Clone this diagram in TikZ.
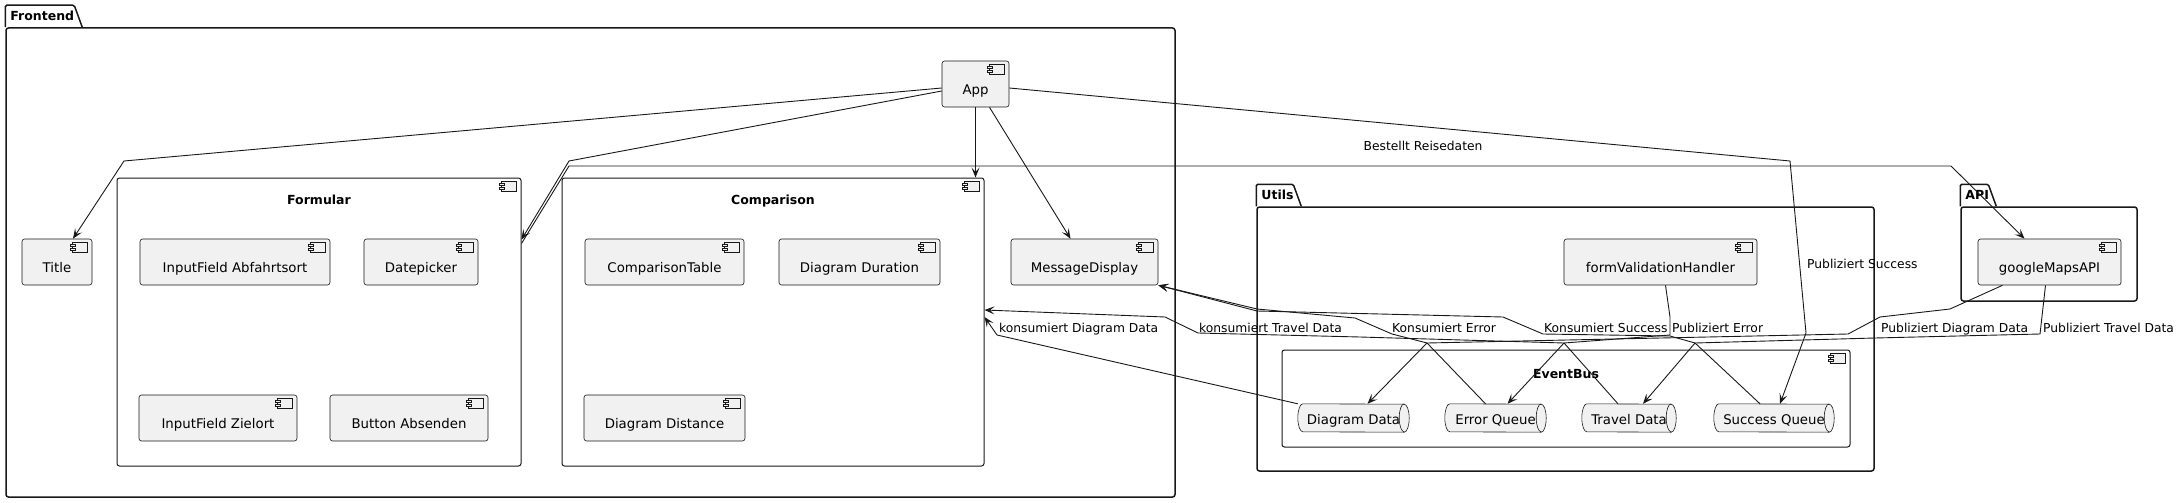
\documentclass[tikz,border=0pt]{standalone}
\usepackage{fontspec}
\setmainfont{DejaVu Sans}
\usepackage{tikz}
\usetikzlibrary{arrows.meta,backgrounds}

\definecolor{umlfill}{HTML}{F1F1F1}
\definecolor{umlline}{HTML}{181818}

\tikzset{
  comp/.style={draw=umlline, line width=0.6pt, fill=umlfill, rounded corners=2.5pt,
    minimum height=46pt, inner sep=0pt, text height=20pt, text depth=0pt,
    font=\fontsize{13.3}{15}\selectfont},
  frame/.style={draw=umlline, line width=1pt, rounded corners=2.5pt, inner sep=0pt},
  pkg/.style={draw=umlline, line width=1.5pt, rounded corners=2.5pt, inner sep=0pt},
  queue/.style={inner sep=0pt, minimum height=28pt, text height=13pt, text depth=0pt,
    font=\fontsize{13.3}{15}\selectfont},
  title/.style={anchor=base, inner sep=0pt, font=\fontsize{12.5}{14}\selectfont\bfseries},
  tabtext/.style={anchor=base west, inner sep=0pt, font=\fontsize{12.5}{14}\selectfont\bfseries},
  elabel/.style={anchor=base west, inner sep=0pt, font=\fontsize{12.3}{14}\selectfont},
  flow/.style={draw=umlline, line width=0.9pt, -{Stealth[length=10pt,width=8pt,inset=4.5pt]}},
  iconline/.style={draw=umlline, line width=0.5pt, fill=umlfill},
  qline/.style={draw=umlline, line width=0.6pt, fill=umlfill}
}

% Komponenten-Symbol oben rechts
\newcommand\compicon[1]{%
  \draw[iconline] ([xshift=-20pt,yshift=-4pt]#1.north east) rectangle ([xshift=-5pt,yshift=-14pt]#1.north east);
  \draw[iconline] ([xshift=-22pt,yshift=-6pt]#1.north east) rectangle ([xshift=-17pt,yshift=-8pt]#1.north east);
  \draw[iconline] ([xshift=-22pt,yshift=-10pt]#1.north east) rectangle ([xshift=-17pt,yshift=-12pt]#1.north east);}

% Reiter eines Pakets
\newcommand\pkgtab[4]{%
  \draw[umlline, line width=1.5pt, rounded corners=1.5pt] (#1.north west) -- ++(0,-22) -- ++(#2,0) -- ++(8,22);
  \node[tabtext] (#3) at ([xshift=5pt,yshift=7pt]#1.north west) {#4};}

% Warteschlange als liegender Zylinder
\newcommand\queuedraw[1]{%
  \filldraw[qline] ([xshift=5pt]#1.north west) arc[start angle=90,end angle=270,x radius=5pt,y radius=14pt]
    -- ([xshift=-5pt]#1.south east) arc[start angle=-90,end angle=90,x radius=5pt,y radius=14pt] -- cycle;
  \draw[qline, fill=none] ([xshift=-5pt]#1.north east) arc[start angle=90,end angle=270,x radius=5pt,y radius=14pt];}

\begin{document}
\begin{tikzpicture}[x=1pt,y=-1pt]
    \useasboundingbox (0,0) rectangle (2184,503);

    % Pakete
    \node[pkg, minimum width=1169pt, minimum height=469pt] (Frontend) at (590.5,262.5) {};
    \node[pkg, minimum width=617pt, minimum height=264pt] (Utils) at (1565.5,339) {};
    \node[pkg, minimum width=176pt, minimum height=94pt] (API) at (2049,254) {};
    \pkgtab{Frontend}{69}{FrontendTab}{Frontend}
    \pkgtab{Utils}{37}{UtilsTab}{Utils}
    \pkgtab{API}{28}{APITab}{API}

    % Frontend
    \node[comp, minimum width=67pt] (App) at (975.5,84) {App};
    \node[comp, minimum width=70pt] (Title) at (57,262) {Title};

    \node[frame, minimum width=404pt, minimum height=288pt] (Formular) at (319,322) {};
    \node[title] (FormularTitle) at (319,204) {Formular};
    \node[comp, minimum width=190pt] (InAbfahrt) at (235,262) {InputField Abfahrtsort};
    \node[comp, minimum width=114pt] (Datepicker) at (421,262) {Datepicker};
    \node[comp, minimum width=158pt] (InZielort) at (218,418) {InputField Zielort};
    \node[comp, minimum width=158pt] (BtnAbsenden) at (409,418) {Button Absenden};

    \node[frame, minimum width=422pt, minimum height=288pt] (Comparison) at (773,322) {};
    \node[title] (ComparisonTitle) at (773,204) {Comparison};
    \node[comp, minimum width=159pt] (CompTable) at (664.5,262) {ComparisonTable};
    \node[comp, minimum width=161pt] (DiagDuration) at (859.5,262) {Diagram Duration};
    \node[comp, minimum width=161pt] (DiagDistance) at (664.5,418) {Diagram Distance};

    \node[comp, minimum width=147pt] (MessageDisplay) at (1084.5,262) {MessageDisplay};

    % Utils und API
    \node[comp, minimum width=193pt] (FormValidation) at (1660.5,262) {formValidationHandler};
    \node[comp, minimum width=143pt] (GoogleMaps) at (2049.5,262) {googleMapsAPI};

    \node[frame, minimum width=568pt, minimum height=97pt] (EventBus) at (1566,398.5) {};
    \node[title] (EventBusTitle) at (1566,378) {EventBus};
    \node[queue, minimum width=111pt] (DiagramData) at (1353.5,418) {Diagram Data};
    \node[queue, minimum width=101pt] (ErrorQueue) at (1495.5,418) {Error Queue};
    \node[queue, minimum width=94pt] (TravelData) at (1629,418) {Travel Data};
    \node[queue, minimum width=120pt] (SuccessQueue) at (1774,418) {Success Queue};

    \begin{pgfonlayer}{background}
      \foreach \q in {DiagramData,ErrorQueue,TravelData,SuccessQueue} {\queuedraw{\q}}
    \end{pgfonlayer}
    \foreach \c in {App,Title,Formular,InAbfahrt,Datepicker,InZielort,BtnAbsenden,Comparison,
      CompTable,DiagDuration,DiagDistance,MessageDisplay,FormValidation,GoogleMaps,EventBus} {\compicon{\c}}

    % Verbindungen von App
    \draw[flow] ([yshift=-4pt]App.west) -- (124,161) -- ([xshift=16pt]Title.north);
    \draw[flow] ([yshift=-7pt]App.west) -- (569,161) -- ([yshift=-62pt]Formular.north east);
    \draw[flow] (App.south) -- (App.south |- Comparison.north);
    \draw[flow] ([xshift=14pt]App.south) -- ([xshift=-14pt]MessageDisplay.north);
    \draw[flow] ([yshift=-4pt]App.east) -- (1790,161) -- (1806,333) -- ([xshift=6pt]SuccessQueue.north);
    \node[elabel] (LblPubSuccess) at (1807,268) {Publiziert Success};

    % Formular an API
    \draw[flow] ([yshift=-66pt]Formular.north east) -- (569,166) -- (1951,166) -- ([xshift=-25pt]GoogleMaps.north);
    \node[elabel, anchor=base] (LblBestellt) at (1423,150) {Bestellt Reisedaten};

    % EventBus
    \draw[flow] ([xshift=5pt]FormValidation.south) -- (1670,317) -- (1670,335) -- (1564,343) -- ([xshift=12pt]ErrorQueue.north);
    \node[elabel] (LblPubError) at (1672,332) {Publiziert Error};
    \draw[flow] ([xshift=-10pt]ErrorQueue.north) -- (1427,343) -- (1392,334) -- (1355,318) -- (1257,309) -- (MessageDisplay.south east);
    \node[elabel] (LblKonsError) at (1392,332) {Konsumiert Error};
    \draw[flow] ([xshift=-14pt]SuccessQueue.north) -- (1695,343) -- (1670,336) -- (1543,334) -- (1503,317) -- (1257,311) -- (MessageDisplay.south east);
    \node[elabel] (LblKonsSuccess) at (1544,332) {Konsumiert Success};
    \draw[flow] ([xshift=-47pt]GoogleMaps.south) -- (1950,309) -- (1880,317) -- (1848,334) -- (1427,343) -- ([xshift=14pt]DiagramData.north);
    \node[elabel] (LblPubDiagram) at (1881,332) {Publiziert Diagram Data};
    \draw[flow] ([xshift=-4pt]GoogleMaps.south) -- (2040,334) -- (1875,338) -- (1695,343) -- ([xshift=14pt]TravelData.north);
    \node[elabel] (LblPubTravel) at (2043,332) {Publiziert Travel Data};
    \draw[flow] ([xshift=-11pt]TravelData.north) -- (1564,343) -- (1360,337) -- (1198,333) -- (1165,317) -- ([yshift=12pt]Comparison.east);
    \node[elabel] (LblKonsTravel) at (1199,332) {konsumiert Travel Data};
    \draw[flow] (DiagramData.north west) -- (997,335) -- ([yshift=5pt]Comparison.east);
    \node[elabel] (LblKonsDiagram) at (999,332) {konsumiert Diagram Data};
\end{tikzpicture}
\end{document}
